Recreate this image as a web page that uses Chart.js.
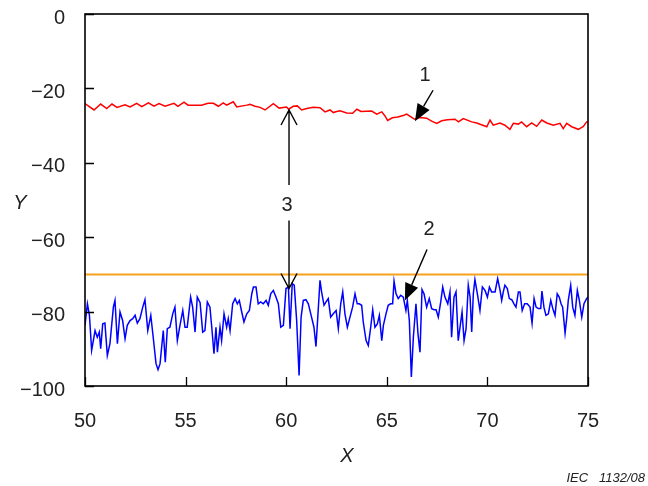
<!DOCTYPE html>
<html><head><meta charset="utf-8">
<script src="https://cdn.jsdelivr.net/npm/chart.js@4/dist/chart.umd.min.js"></script>
<style>html,body{margin:0;padding:0;background:#fff}#wrap{width:648px;height:486px}</style>
</head><body><div id="wrap"><canvas id="c" width="648" height="486"></canvas></div>
<script>
const xTicks = [50, 55, 60, 65, 70, 75];
const yTicks = [0, -20, -40, -60, -80, -100];
const xTitle = 'X';
const yTitle = 'Y';
const credit = 'IEC   1132/08';

const redX = [50.00,50.45,50.78,51.08,51.34,51.59,51.99,52.24,52.57,52.82,53.15,53.43,53.68,53.98,54.42,54.62,54.92,55.12,55.80,56.11,56.38,56.63,56.87,57.04,57.37,57.54,58.04,58.20,58.45,58.70,58.95,59.36,59.65,60.02,60.12,60.35,60.55,60.77,61.02,61.35,61.68,61.93,62.18,62.34,62.51,62.67,63.01,63.30,63.51,63.72,64.25,64.50,64.75,64.91,65.04,65.28,65.55,65.85,65.99,66.24,66.38,66.65,66.98,67.23,67.48,67.73,68.02,68.39,68.56,68.80,69.22,69.47,69.97,70.13,70.29,70.63,70.87,71.12,71.29,71.54,71.70,71.95,72.20,72.45,72.70,72.95,73.28,73.61,73.77,73.94,74.19,74.52,74.77,74.93,75.00];
const redY = [-24.1,-25.8,-24.2,-25.4,-24.2,-25.1,-24.4,-25.0,-24.0,-24.9,-23.9,-24.8,-24.1,-24.8,-24.0,-24.8,-23.7,-24.5,-24.5,-24.0,-24.0,-24.8,-23.9,-24.5,-23.6,-25.0,-24.5,-24.3,-24.8,-25.1,-25.8,-24.1,-25.3,-25.0,-25.6,-24.8,-24.7,-25.8,-25.4,-25.1,-25.2,-26.3,-25.8,-26.5,-26.2,-26.0,-26.6,-26.7,-25.6,-26.2,-26.1,-26.9,-26.3,-27.4,-28.6,-27.9,-27.7,-27.2,-26.9,-27.8,-28.3,-27.8,-28.0,-28.8,-29.4,-28.7,-28.4,-28.3,-29.0,-28.1,-29.0,-29.3,-30.3,-28.5,-29.9,-29.3,-29.9,-31.0,-29.4,-29.6,-29.0,-30.3,-29.3,-30.2,-28.5,-29.3,-29.9,-29.4,-30.8,-29.4,-30.3,-31.0,-30.2,-29.0,-29.0];

const blueX = [50.00,50.12,50.22,50.33,50.50,50.61,50.71,50.78,50.88,50.99,51.11,51.24,51.41,51.49,51.61,51.74,51.87,51.99,52.10,52.24,52.37,52.49,52.60,52.73,52.87,52.98,53.12,53.27,53.39,53.53,53.63,53.73,53.89,53.99,54.09,54.22,54.36,54.47,54.59,54.72,54.86,54.97,55.08,55.25,55.35,55.47,55.58,55.72,55.85,55.96,56.08,56.21,56.30,56.41,56.51,56.58,56.71,56.79,56.91,57.04,57.12,57.21,57.34,57.46,57.57,57.67,57.79,57.90,58.04,58.17,58.29,58.37,58.50,58.61,58.73,58.86,59.00,59.11,59.23,59.36,59.49,59.61,59.73,59.86,59.99,60.11,60.19,60.30,60.40,60.52,60.64,60.74,60.85,60.98,61.10,61.26,61.38,61.48,61.60,61.68,61.76,61.88,61.98,62.09,62.21,62.34,62.48,62.59,62.71,62.81,62.92,63.04,63.17,63.30,63.42,63.53,63.63,63.75,63.83,63.97,64.08,64.20,64.30,64.41,64.53,64.63,64.75,64.83,64.96,65.07,65.19,65.29,65.36,65.46,65.57,65.69,65.82,65.95,66.02,66.12,66.22,66.32,66.45,66.55,66.65,66.75,66.85,66.98,67.11,67.23,67.35,67.45,67.56,67.68,67.78,67.89,68.03,68.14,68.22,68.34,68.44,68.55,68.64,68.74,68.84,68.94,69.05,69.14,69.22,69.30,69.38,69.50,69.63,69.75,69.88,70.00,70.10,70.21,70.38,70.51,70.63,70.71,70.79,70.87,70.99,71.09,71.21,71.32,71.42,71.54,71.62,71.73,71.85,71.98,72.12,72.22,72.32,72.42,72.53,72.65,72.71,72.81,72.91,73.03,73.15,73.25,73.36,73.47,73.57,73.66,73.74,73.86,73.94,74.02,74.14,74.24,74.35,74.47,74.57,74.69,74.80,74.93,75.00];
const blueY = [-83.7,-77.9,-81.0,-90.4,-85.1,-86.9,-85.5,-90.0,-83.3,-83.1,-91.8,-88.6,-78.8,-77.0,-88.6,-80.1,-82.4,-87.3,-83.7,-82.4,-81.9,-81.0,-83.1,-81.9,-78.8,-76.8,-85.1,-81.0,-86.9,-94.0,-95.6,-94.0,-85.1,-93.6,-84.6,-84.2,-80.6,-78.8,-87.8,-83.7,-79.7,-84.2,-84.2,-76.1,-78.8,-85.5,-76.1,-77.6,-85.5,-85.1,-77.4,-78.8,-84.2,-91.3,-84.2,-90.9,-84.2,-87.8,-80.6,-84.2,-81.9,-85.1,-77.9,-76.5,-77.9,-77.0,-80.1,-82.8,-80.6,-79.7,-75.2,-73.4,-73.4,-77.9,-77.4,-77.9,-77.0,-78.3,-75.2,-74.3,-76.1,-77.9,-84.2,-83.7,-73.8,-73.4,-84.6,-72.5,-72.9,-82.4,-97.2,-81.5,-77.0,-76.8,-77.9,-81.5,-84.2,-89.4,-78.8,-71.6,-74.7,-78.3,-77.4,-76.5,-81.5,-80.6,-79.7,-84.6,-77.9,-74.7,-80.6,-84.2,-81.5,-78.8,-75.2,-77.9,-77.9,-78.3,-82.8,-87.8,-89.1,-84.2,-79.5,-84.2,-83.3,-81.0,-87.8,-83.7,-80.6,-78.3,-77.9,-77.9,-71.8,-75.2,-76.5,-75.6,-76.1,-79.7,-77.0,-82.4,-97.6,-86.9,-77.9,-86.0,-90.9,-74.1,-75.2,-78.8,-76.5,-79.2,-79.5,-79.5,-81.5,-77.4,-73.4,-76.1,-77.9,-74.7,-86.9,-76.1,-74.7,-87.8,-84.2,-80.1,-87.8,-84.6,-72.9,-76.1,-85.5,-75.2,-71.4,-75.2,-79.7,-73.4,-74.3,-76.1,-73.4,-74.7,-74.7,-71.1,-74.3,-77.0,-74.7,-72.9,-73.8,-76.5,-76.8,-77.9,-78.8,-74.7,-74.7,-79.7,-77.9,-77.9,-78.8,-83.1,-76.5,-78.8,-79.2,-79.2,-74.5,-78.8,-81.0,-80.6,-77.0,-79.2,-81.0,-75.2,-76.1,-77.9,-78.8,-85.8,-81.9,-77.0,-72.9,-78.8,-81.0,-74.3,-77.0,-81.5,-77.9,-76.5,-76.1];

const refX = [50, 75];
const refY = [-70, -70];

// annotation marks, in data units
const notes = {
  one:   {text: '1', at: [66.9, -16.4], from: [67.30, -20.5], to: [66.40, -28.8]},
  two:   {text: '2', at: [67.1, -58.0], from: [67.00, -63.3], to: [65.90, -77.0]},
  three: {text: '3', at: [60.04, -51.4], x: 60.14, top: -25.8, topEnd: -46.0, botStart: -55.5, bottom: -73.8}
};

const pts = (xs, ys) => xs.map((x, i) => ({x, y: ys[i]}));
const FONT = '"Liberation Sans", Arial, Helvetica, sans-serif';
const minus = v => v < 0 ? '\u2212' + Math.abs(v) : String(v);

const overlay = {
  id: 'overlay',
  afterDraw(chart) {
    const {ctx, chartArea: a, scales: {x, y}} = chart;
    ctx.save();
    ctx.strokeStyle = '#000'; ctx.lineWidth = 1.6;
    ctx.strokeRect(a.left, a.top, a.right - a.left, a.bottom - a.top);
    ctx.lineWidth = 1.3;
    ctx.beginPath();
    yTicks.forEach(v => { const py = Math.round(y.getPixelForValue(v)) + 0.5; ctx.moveTo(a.left, py); ctx.lineTo(a.left + 9, py); });
    xTicks.forEach(v => { const px = Math.round(x.getPixelForValue(v)) + 0.5; ctx.moveTo(px, a.bottom); ctx.lineTo(px, a.bottom - 9); });
    ctx.stroke();
    ctx.fillStyle = '#222';
    ctx.font = 'italic 20px ' + FONT;
    ctx.textAlign = 'center'; ctx.textBaseline = 'middle';
    ctx.fillText(yTitle, 20, 203);
    ctx.fillText(xTitle, 347, 456);
    ctx.font = 'italic 13px ' + FONT;
    ctx.textAlign = 'right';
    ctx.fillText(credit, 645, 478);

    const P = p => [x.getPixelForValue(p[0]), y.getPixelForValue(p[1])];
    ctx.strokeStyle = '#000'; ctx.fillStyle = '#000'; ctx.lineWidth = 1.4;
    const filledArrow = (f, t) => {
      const [x1, y1] = P(f), [x2, y2] = P(t);
      const ang = Math.atan2(y2 - y1, x2 - x1), L = 17, W = 7;
      const bx = x2 - L * Math.cos(ang), by = y2 - L * Math.sin(ang);
      ctx.beginPath(); ctx.moveTo(x1, y1); ctx.lineTo(bx, by); ctx.stroke();
      ctx.beginPath(); ctx.moveTo(x2, y2);
      ctx.lineTo(bx + W * Math.sin(ang), by - W * Math.cos(ang));
      ctx.lineTo(bx - W * Math.sin(ang), by + W * Math.cos(ang));
      ctx.closePath(); ctx.fill();
    };
    filledArrow(notes.one.from, notes.one.to);
    filledArrow(notes.two.from, notes.two.to);
    const n3 = notes.three, px3 = x.getPixelForValue(n3.x);
    const yt = y.getPixelForValue(n3.top), yte = y.getPixelForValue(n3.topEnd);
    const ybs = y.getPixelForValue(n3.botStart), yb = y.getPixelForValue(n3.bottom);
    ctx.beginPath();
    ctx.moveTo(px3, yt); ctx.lineTo(px3, yte);
    ctx.moveTo(px3, ybs); ctx.lineTo(px3, yb);
    ctx.moveTo(px3 - 8, yt + 15); ctx.lineTo(px3, yt); ctx.lineTo(px3 + 8, yt + 15);
    ctx.moveTo(px3 - 8, yb - 15); ctx.lineTo(px3, yb); ctx.lineTo(px3 + 8, yb - 15);
    ctx.stroke();
    ctx.fillStyle = '#222';
    ctx.font = '20px ' + FONT;
    ctx.textAlign = 'center'; ctx.textBaseline = 'middle';
    [notes.one, notes.two, notes.three].forEach(n => { const [tx, ty] = P(n.at); ctx.fillText(n.text, tx, ty); });
    ctx.restore();
  }
};

new Chart(document.getElementById('c'), {
  type: 'scatter',
  data: {
    datasets: [
      {label: 'ref', data: pts(refX, refY), showLine: true, borderColor: '#f7a21b', borderWidth: 2, pointRadius: 0, tension: 0},
      {label: '1', data: pts(redX, redY), showLine: true, borderColor: '#ff0000', borderWidth: 1.5, pointRadius: 0, tension: 0},
      {label: '2', data: pts(blueX, blueY), showLine: true, borderColor: '#0000ff', borderWidth: 1.5, pointRadius: 0, tension: 0}
    ]
  },
  options: {
    responsive: false,
    devicePixelRatio: 1,
    animation: false,
    layout: {padding: {left: 0, right: 60, top: 14, bottom: 0}},
    plugins: {legend: {display: false}, tooltip: {enabled: false}},
    scales: {
      x: {
        type: 'linear', min: 50, max: 75,
        afterBuildTicks: s => { s.ticks = xTicks.map(v => ({value: v})); },
        afterFit: s => { s.height = 100; s.paddingLeft = 0; s.paddingRight = 0; },
        grid: {display: false, drawTicks: false},
        border: {display: false},
        ticks: {font: {family: FONT, size: 20}, color: '#222', padding: 23, maxRotation: 0, callback: v => minus(v)}
      },
      y: {
        type: 'linear', min: -100, max: 0,
        afterBuildTicks: s => { s.ticks = yTicks.slice().reverse().map(v => ({value: v})); },
        afterFit: s => { s.width = 85; s.paddingTop = 0; s.paddingBottom = 0; },
        grid: {display: false, drawTicks: false},
        border: {display: false},
        ticks: {font: {family: FONT, size: 20}, color: '#222', padding: 20, labelOffset: 4, callback: v => minus(v)}
      }
    }
  },
  plugins: [overlay]
});
</script>
</body></html>
